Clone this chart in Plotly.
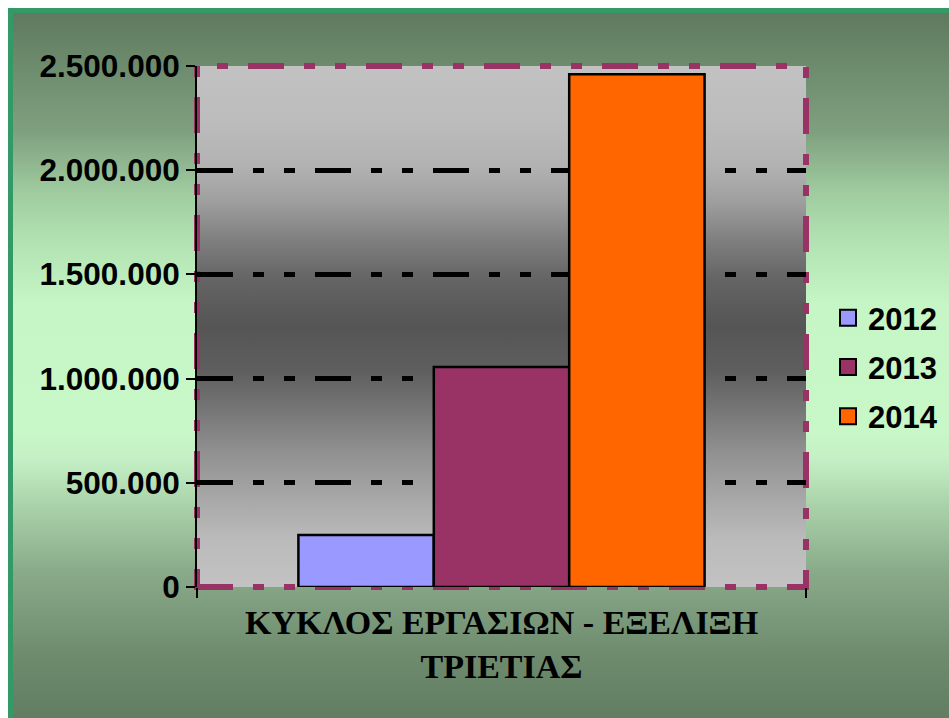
import base64
import plotly.graph_objects as go

# ---------------- data ----------------
categories = ["ΚΥΚΛΟΣ ΕΡΓΑΣΙΩΝ - ΕΞΕΛΙΞΗ<br>ΤΡΙΕΤΙΑΣ"]
years = ["2012", "2013", "2014"]
values_2012 = [250000]
values_2013 = [1056000]
values_2014 = [2460000]
series_values = [values_2012, values_2013, values_2014]
bar_colors = ["#9999FF", "#993366", "#FF6600"]
y_tick_vals = [0, 500000, 1000000, 1500000, 2000000, 2500000]
y_tick_text = ["0", "500.000", "1.000.000", "1.500.000", "2.000.000", "2.500.000"]

# ---------------- layout geometry ----------------
W, H = 949, 718
L, R, T, B = 197, 143, 66, 131
PW = W - L - R
PH = H - T - B


def svg_uri(svg):
    return "data:image/svg+xml;base64," + base64.b64encode(svg.encode("utf-8")).decode("ascii")


def stops_svg(stops):
    return "".join(f'<stop offset="{o:.4f}" stop-color="{c}"/>' for o, c in stops)


# outer (paper) green gradient, measured as (pixel y, colour)
outer_pts = [(13, "#5f7a5f"), (130, "#7fa07f"), (190, "#a0cca0"), (240, "#b3e3b3"),
             (300, "#c6f6c6"), (420, "#c8f8c8"), (450, "#c5f0c5"), (500, "#a8d0a8"),
             (560, "#8aab8a"), (640, "#6f8c6f"), (718, "#5f7a5f")]
outer_stops = [((y - 13) / (H - 13), c) for y, c in outer_pts]
outer_svg = (
    f'<svg xmlns="http://www.w3.org/2000/svg" width="{W}" height="{H}" viewBox="0 0 {W} {H}" preserveAspectRatio="none">'
    f'<defs><linearGradient id="g" x1="0" y1="0" x2="0" y2="1">{stops_svg(outer_stops)}</linearGradient></defs>'
    f'<rect x="0" y="0" width="{W}" height="{H}" fill="#ffffff"/>'
    f'<rect x="8" y="8" width="{W}" height="{H}" fill="#339966"/>'
    f'<rect x="13" y="13" width="{W}" height="{H}" fill="url(#g)"/>'
    f'</svg>'
)

# plot-area grey gradient
plot_pts = [(66, "#c2c2c2"), (120, "#bcbcbc"), (166, "#b2b2b2"), (200, "#a0a0a0"),
            (240, "#7f7f7f"), (280, "#646464"), (326, "#555555"), (370, "#5e5e5e"),
            (410, "#767676"), (450, "#8f8f8f"), (500, "#a8a8a8"), (540, "#bbbbbb"), (587, "#c2c2c2")]
plot_stops = [((y - 66) / (587 - 66), c) for y, c in plot_pts]
plot_svg = (
    f'<svg xmlns="http://www.w3.org/2000/svg" width="{PW}" height="{PH}" viewBox="0 0 {PW} {PH}" preserveAspectRatio="none">'
    f'<defs><linearGradient id="p" x1="0" y1="0" x2="0" y2="1">{stops_svg(plot_stops)}</linearGradient></defs>'
    f'<rect x="0" y="0" width="{PW}" height="{PH}" fill="url(#p)"/>'
    f'</svg>'
)

SANS = "Liberation Sans, Arial, sans-serif"
SERIF = "Liberation Serif, Times New Roman, serif"
DASH = "36px,20px,11px,20px,11px,20px"

fig = go.Figure()
for name, vals, col in zip(years, series_values, bar_colors):
    fig.add_trace(go.Bar(
        x=categories, y=vals, name=name,
        marker=dict(color=col, line=dict(color="black", width=2.5)),
        hoverinfo="skip", showlegend=False, legendgroup=name,
    ))
# legend entries with larger square swatches
for name, col in zip(years, bar_colors):
    fig.add_trace(go.Scatter(
        x=[None], y=[None], mode="markers", name=name, legendgroup=name,
        marker=dict(symbol="square", size=16, color=col, line=dict(color="black", width=2)),
        hoverinfo="skip", showlegend=True,
    ))

fig.update_layout(
    width=W, height=H,
    margin=dict(l=L, r=R, t=T, b=B, pad=0, autoexpand=False),
    paper_bgcolor="white",
    plot_bgcolor="rgba(0,0,0,0)",
    barmode="group",
    bargap=0.333,
    bargroupgap=0,
    showlegend=True,
    legend=dict(
        x=(828 - L) / PW, xanchor="left",
        y=(587 - 367) / PH, yanchor="middle",
        bgcolor="rgba(0,0,0,0)",
        font=dict(family=SANS, size=31, color="black", weight="bold"),
        traceorder="grouped", tracegroupgap=6,
        itemsizing="trace",
    ),
    xaxis=dict(
        type="category", range=[-0.5, 0.5],
        tickson="boundaries", ticks="outside", ticklen=10, tickwidth=2, tickcolor="black",
        showline=False, showgrid=False, zeroline=False,
        ticklabelstandoff=12,
        tickfont=dict(family=SERIF, size=34, color="black", weight="bold"),
    ),
    yaxis=dict(
        range=[0, 2500000], tickmode="array", tickvals=y_tick_vals, ticktext=y_tick_text,
        showgrid=True, gridcolor="black", gridwidth=5, griddash=DASH,
        zeroline=False,
        showline=True, linecolor="black", linewidth=2,
        ticks="outside", ticklen=9, tickwidth=2, tickcolor="black",
        tickfont=dict(family=SANS, size=31.5, color="black", weight="bold"),
    ),
    images=[
        dict(source=svg_uri(outer_svg), xref="paper", yref="paper",
             x=-L / PW, y=1 + T / PH, sizex=W / PW, sizey=H / PH,
             xanchor="left", yanchor="top", sizing="stretch", layer="below"),
        dict(source=svg_uri(plot_svg), xref="paper", yref="paper",
             x=0, y=1, sizex=1, sizey=1,
             xanchor="left", yanchor="top", sizing="stretch", layer="below"),
    ],
    shapes=[
        dict(type="rect", xref="paper", yref="paper", x0=0, x1=1, y0=0, y1=1,
             line=dict(color="#993366", width=6, dash=DASH),
             fillcolor="rgba(0,0,0,0)", layer="between"),
    ],
)

fig.write_html("out.html")
